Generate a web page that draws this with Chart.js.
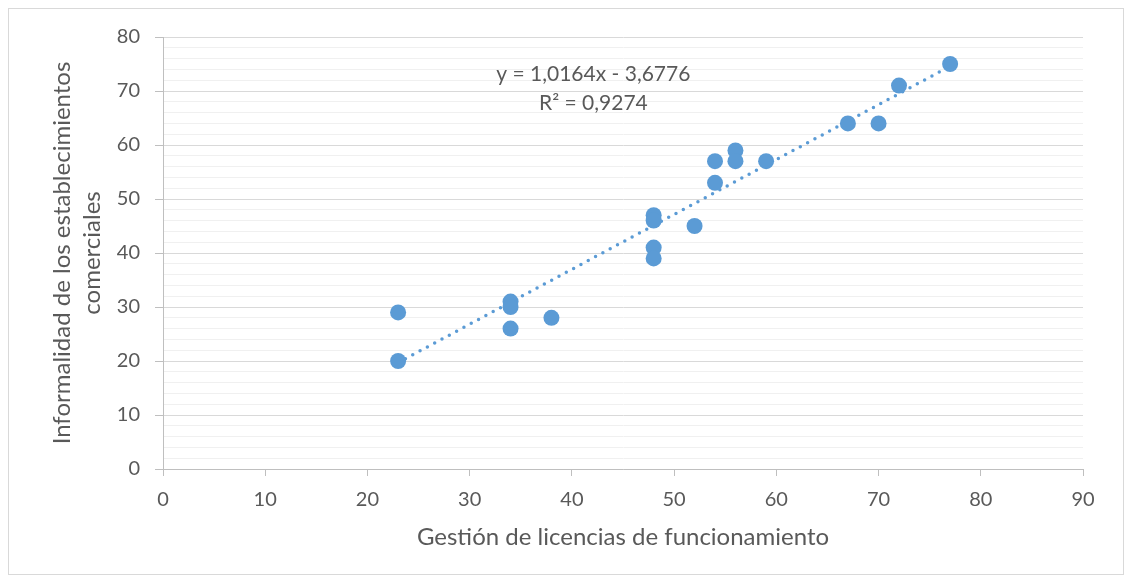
<!DOCTYPE html>
<html>
<head>
<meta charset="utf-8">
<script src="https://cdn.jsdelivr.net/npm/chart.js@4"></script>
<style>
  body { margin: 0; background: #fff; }
  #wrap { width: 1130px; height: 583px; }
</style>
</head>
<body>
<div id="wrap"><canvas id="scatterChart" width="1130" height="583"></canvas></div>
<script>
// Gestión de licencias (x) vs Informalidad (y)
const gestion = [23, 23, 34, 34, 34, 38, 48, 48, 48, 48, 52, 54, 54, 56, 56, 59, 67, 70, 72, 77];
const informalidad = [29, 20, 31, 30, 26, 28, 47, 46, 41, 39, 45, 57, 53, 59, 57, 57, 64, 64, 71, 75];

// Trendline as reported by the spreadsheet
const slope = 1.0164;
const intercept = -3.6776;
const equationLines = ["y = 1,0164x - 3,6776", "R² = 0,9274"];

const xTitle = "Gestión de licencias de funcionamiento";
const yTitle = ["Informalidad de los establecimientos", "comerciales"];

const blue = '#5b9bd5';
const textGrey = '#595959';

const points = gestion.map((x, i) => ({ x: x, y: informalidad[i] }));
const xMin = Math.min(...gestion);
const xMax = Math.max(...gestion);
const trend = [
    { x: xMin, y: slope * xMin + intercept },
    { x: xMax, y: slope * xMax + intercept }
];

// chart frame + equation label
const extras = {
    id: 'extras',
    beforeDraw(chart) {
        const ctx = chart.ctx;
        ctx.save();
        ctx.strokeStyle = '#d9d9d9';
        ctx.lineWidth = 1;
        ctx.strokeRect(8.5, 8.5, 1115, 566);
        ctx.restore();
    },
    afterDatasetsDraw(chart) {
        const ctx = chart.ctx;
        const xs = chart.scales.x, ys = chart.scales.y;
        ctx.save();
        ctx.fillStyle = textGrey;
        ctx.font = '21px Lato';
        ctx.textAlign = 'center';
        ctx.textBaseline = 'middle';
        ctx.fillText(equationLines[0], xs.getPixelForValue(42.1), ys.getPixelForValue(73.1));
        ctx.fillText(equationLines[1], xs.getPixelForValue(42.1), ys.getPixelForValue(67.7));
        ctx.restore();
    }
};

new Chart(document.getElementById('scatterChart').getContext('2d'), {
    type: 'scatter',
    data: {
        datasets: [
            {
                data: points,
                backgroundColor: blue,
                borderWidth: 0,
                pointRadius: 8,
                pointHoverRadius: 8
            },
            {
                type: 'line',
                data: trend,
                borderColor: blue,
                borderWidth: 3.5,
                borderDash: [0, 8.3],
                borderCapStyle: 'round',
                pointRadius: 0,
                fill: false
            }
        ]
    },
    options: {
        responsive: false,
        animation: false,
        layout: { padding: { top: 37, right: 47, left: 0, bottom: 0 } },
        plugins: {
            legend: { display: false },
            tooltip: { enabled: false }
        },
        scales: {
            x: {
                type: 'linear',
                min: 0,
                max: 90,
                afterFit(scale) { scale.height = 114; },
                ticks: {
                    stepSize: 10,
                    color: textGrey,
                    font: { family: 'Lato', size: 20 },
                    padding: 12
                },
                grid: {
                    drawOnChartArea: false,
                    drawTicks: true,
                    tickLength: 7,
                    tickColor: '#bfbfbf'
                },
                border: { color: '#bfbfbf', width: 1 },
                title: {
                    display: true,
                    text: xTitle,
                    color: textGrey,
                    font: { family: 'Lato', size: 24 },
                    padding: { top: 0, bottom: 31 }
                }
            },
            y: {
                min: 0,
                max: 80,
                afterFit(scale) { scale.width = 163; },
                ticks: {
                    stepSize: 2,
                    autoSkip: false,
                    color: textGrey,
                    font: { family: 'Lato', size: 20 },
                    padding: 15,
                    callback: (v) => (v % 10 === 0 ? v : '')
                },
                grid: {
                    color: (c) => (c.tick && c.tick.value % 10 === 0 ? '#d9d9d9' : '#f0f0f0'),
                    tickColor: (c) => (c.tick && c.tick.value % 10 === 0 ? '#bfbfbf' : 'rgba(0,0,0,0)'),
                    tickLength: 8
                },
                border: { color: '#bfbfbf', width: 1 },
                title: {
                    display: true,
                    text: yTitle,
                    color: textGrey,
                    font: { family: 'Lato', size: 24, lineHeight: 1.25 },
                    padding: { top: 47, bottom: 0 }
                }
            }
        }
    },
    plugins: [extras]
});
</script>
</body>
</html>
